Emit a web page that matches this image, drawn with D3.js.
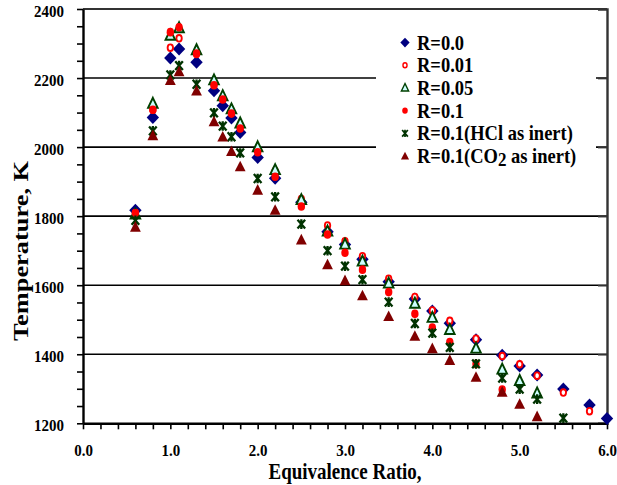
<!DOCTYPE html>
<html>
<head>
<meta charset="utf-8">
<script src="https://cdn.jsdelivr.net/npm/d3@7"></script>
<style>
  body { margin: 0; background: #fff; }
  svg { display: block; }
  text { font-family: "Liberation Serif", "Times New Roman", serif; font-weight: bold; fill: #000; }
</style>
</head>
<body>
<div id="chart"></div>
<script>
// DATA //
const ratios = [0.6, 0.8, 1.0, 1.1, 1.3, 1.5, 1.6, 1.7, 1.8, 2.0, 2.2, 2.5, 2.8, 3.0, 3.2, 3.5, 3.8, 4.0, 4.2, 4.5, 4.8, 5.0, 5.2, 5.5, 5.8, 6.0]

const tempR000 = [1817, 2086, 2258, 2284, 2246, 2163, 2120, 2084, 2042, 1970, 1910, 1840, 1755, 1718, 1675, 1610, 1560, 1525, 1490, 1442, 1397, 1366, 1340, 1299, 1253, 1214]
const tempR001 = [1810, 2108, 2288, 2315, 2270, 2182, 2140, 2100, 2058, 1990, 1931, 1850, 1773, 1727, 1684, 1619, 1566, 1527, 1497, 1445, 1395, 1371, 1338, 1289, 1235]
const tempR005 = [1805, 2126, 2323, 2345, 2281, 2194, 2148, 2110, 2069, 2000, 1934, 1847, 1756, 1718, 1669, 1605, 1547, 1506, 1471, 1417, 1356, 1323, 1287]
const tempR010 = [1808, 2108, 2333, 2347, 2271, 2179, 2138, 2097, 2054, 1985, 1914, 1828, 1747, 1694, 1645, 1580, 1517, 1477, 1435, 1372, 1298]
const tempHCl = [1788, 2047, 2209, 2236, 2182, 2099, 2061, 2030, 1983, 1909, 1856, 1777, 1700, 1655, 1616, 1551, 1489, 1461, 1420, 1372, 1331, 1299, 1270, 1215]
const tempCO2 = [1769, 2034, 2194, 2219, 2163, 2074, 2030, 1988, 1944, 1876, 1818, 1732, 1660, 1614, 1570, 1510, 1453, 1417, 1383, 1334, 1291, 1256, 1220]

const seriesNames = ["R=0.0", "R=0.01", "R=0.05", "R=0.1", "R=0.1(HCl as inert)", "R=0.1(CO2 as inert)"]
const seriesTemps = [tempR000, tempR001, tempR005, tempR010, tempHCl, tempCO2]

const xTicks = [0, 1, 2, 3, 4, 5, 6]
const yTicks = [1200, 1400, 1600, 1800, 2000, 2200, 2400]
const gridTicks = [1400, 1600, 1800, 2000, 2200]

// markers, one per series
const markers = [
    { path: "M0,-6.5L6.2,0L0,6.5L-6.2,0Z", fill: "#000080", stroke: "none", sw: 0 },
    { ellipse: [2.7, 3.3], fill: "#fff", stroke: "#ff0000", sw: 1.9 },
    { path: "M0,-5.8L4.8,4.2L-4.8,4.2Z", fill: "#ccffff", stroke: "#004000", sw: 1.9 },
    { ellipse: [3.7, 4.3], fill: "#ff0000", stroke: "none", sw: 0 },
    { path: "M-3.8,-4.4L3.8,4.4M-3.8,4.4L3.8,-4.4M0,-4.8L0,4.8", fill: "none", stroke: "#003300", sw: 2.3 },
    { path: "M0,-5.8L5.4,4.8L-5.4,4.8Z", fill: "#800000", stroke: "none", sw: 0 },
]

// DIMENSIONS //
const dimensions = {
    width: 617,
    height: 485,
    left: 83,
    right: 607,
    top: 9,
    bottom: 423.3,
}

const xScale = d3.scaleLinear().domain([0, 6]).range([dimensions.left, dimensions.right])
const yScale = d3.scaleLinear().domain([1200, 2400]).range([dimensions.bottom, dimensions.top])

const svg = d3.select("#chart")
    .append("svg")
    .attr("width", dimensions.width)
    .attr("height", dimensions.height)

function drawMarker(g, m, k) {
    if (m.ellipse) {
        g.append("ellipse")
            .attr("rx", m.ellipse[0] * k)
            .attr("ry", m.ellipse[1] * k)
            .attr("fill", m.fill)
            .attr("stroke", m.stroke)
            .attr("stroke-width", m.sw * k)
    } else {
        g.append("path")
            .attr("d", m.path)
            .attr("transform", `scale(${k})`)
            .attr("fill", m.fill)
            .attr("stroke", m.stroke)
            .attr("stroke-width", m.sw)
    }
}

// gridlines
svg.append("g")
    .selectAll("line")
    .data(gridTicks)
    .join("line")
    .attr("x1", dimensions.left)
    .attr("x2", dimensions.right)
    .attr("y1", d => yScale(d))
    .attr("y2", d => yScale(d))
    .attr("stroke", "#000")
    .attr("stroke-width", 1.6)

// top border
svg.append("line")
    .attr("x1", dimensions.left).attr("x2", dimensions.right)
    .attr("y1", dimensions.top).attr("y2", dimensions.top)
    .attr("stroke", "#333").attr("stroke-width", 2.2)

// right axis with inner ticks
const rightAxis = svg.append("g")
    .attr("transform", `translate(${dimensions.right},0)`)
    .call(d3.axisRight(yScale).tickValues(gridTicks).tickSize(-9).tickFormat(""))
rightAxis.select(".domain").attr("stroke", "#333").attr("stroke-width", 2.4)
rightAxis.selectAll(".tick line").attr("stroke", "#333").attr("stroke-width", 1.6)

// left axis, minor ticks every 50
const leftMinor = svg.append("g")
    .attr("transform", `translate(${dimensions.left},0)`)
    .call(d3.axisLeft(yScale).tickValues(d3.range(1200, 2401, 50)).tickSize(6).tickFormat("").tickSizeOuter(0))
leftMinor.select(".domain").attr("stroke", "#000").attr("stroke-width", 2.4)
leftMinor.selectAll(".tick line").attr("stroke", "#000").attr("stroke-width", 1.6)

const leftAxis = svg.append("g")
    .attr("transform", `translate(${dimensions.left},0)`)
    .call(d3.axisLeft(yScale).tickValues(yTicks).tickSize(0).tickFormat(d3.format("d")))
leftAxis.select(".domain").remove()
leftAxis.selectAll("text")
    .attr("x", 0).attr("y", 0).attr("dy", "0.35em")
    .attr("transform", "translate(-19,1) scale(1,1.15)")
    .style("font-size", "15px")
    .style("font-family", "Liberation Serif")

// bottom axis, minor ticks every 0.2
const bottomMinor = svg.append("g")
    .attr("transform", `translate(0,${dimensions.bottom})`)
    .call(d3.axisBottom(xScale).tickValues(d3.range(0, 6.01, 0.2)).tickSize(6).tickFormat("").tickSizeOuter(0))
bottomMinor.select(".domain").attr("stroke", "#000").attr("stroke-width", 2.6)
bottomMinor.selectAll(".tick line").attr("stroke", "#000").attr("stroke-width", 1.6)

const bottomAxis = svg.append("g")
    .attr("transform", `translate(0,${dimensions.bottom})`)
    .call(d3.axisBottom(xScale).tickValues(xTicks).tickSize(0).tickFormat(d3.format(".1f")))
bottomAxis.select(".domain").remove()
bottomAxis.selectAll("text")
    .attr("x", 0).attr("y", 0).attr("dy", "0.35em")
    .attr("transform", "translate(0,27) scale(1,1.15)")
    .style("font-size", "15px")
    .style("font-family", "Liberation Serif")

// axis titles
svg.append("text")
    .attr("text-anchor", "middle")
    .attr("dy", "0.35em")
    .attr("transform", `translate(${(dimensions.left + dimensions.right) / 2},471) scale(1,1.2)`)
    .style("font-size", "19px")
    .text("Equivalence Ratio,")

svg.append("text")
    .attr("text-anchor", "middle")
    .attr("dy", "0.35em")
    .attr("transform", "translate(20,251) rotate(-90) scale(1.2,1)")
    .style("font-size", "22px")
    .text("Temperature, K")

// data points
seriesTemps.forEach((temps, i) => {
    const pts = temps.map((t, j) => ({ x: ratios[j], t: t }))
    svg.append("g")
        .attr("class", "series")
        .selectAll("g")
        .data(pts)
        .join("g")
        .attr("transform", d => `translate(${xScale(d.x)},${yScale(d.t)})`)
        .each(function () { drawMarker(d3.select(this), markers[i], 1) })
})

// legend
const legend = svg.append("g")
legend.append("rect")
    .attr("x", 376).attr("y", 27)
    .attr("width", 220).attr("height", 143)
    .attr("fill", "#fff")

const rows = legend.selectAll(".row")
    .data(seriesNames)
    .join("g")
    .attr("class", "row")
    .attr("transform", (d, i) => `translate(405,${42.5 + i * 22.7})`)

rows.each(function (d, i) {
    const row = d3.select(this)
    drawMarker(row.append("g"), markers[i], 0.75)
    const t = row.append("text")
        .attr("x", 0).attr("y", 0).attr("dy", "0.35em")
        .attr("transform", "translate(12,0) scale(1,1.1)")
        .style("font-size", "18.5px")
    if (d.includes("CO2")) {
        t.append("tspan").text("R=0.1(CO")
        t.append("tspan").attr("dy", "3").style("font-size", "17px").text("2")
        t.append("tspan").attr("dy", "-3").text(" as inert)")
    } else {
        t.text(d)
    }
})
</script>
</body>
</html>
